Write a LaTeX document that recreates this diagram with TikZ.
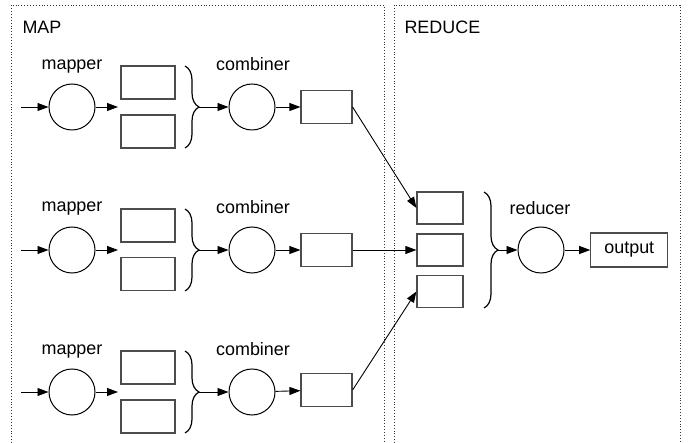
\documentclass[tikz,border=0pt]{standalone}
\usepackage{fontspec}
\setmainfont{Liberation Sans}
\usetikzlibrary{arrows.meta}
\usetikzlibrary{decorations.pathreplacing}

\begin{document}
\begin{tikzpicture}[x=1bp, y=-1bp,
  every node/.style={font=\fontsize{18}{21}\selectfont},
  proc/.style={draw, circle, line width=1bp, minimum size=46bp, inner sep=0pt},
  buf/.style={draw=black!70, line width=1.2bp, minimum width=54bp, minimum height=33bp, inner sep=0pt},
  flow/.style={-{Triangle[length=11bp,width=8bp]}, line width=0.9bp},
  grp/.style={decorate, decoration={brace, amplitude=14bp}, line width=1.2bp},
  zone/.style={dotted, line width=0.9bp, black!80}]
\useasboundingbox (0,0) rectangle (691,443);

% MAP and REDUCE areas
\draw[zone] (11,443) -- (11,5) -- (384,5) -- (384,443);
\draw[zone] (394,443) -- (394,5) -- (680,5) -- (680,443);
\node[anchor=west] (maplbl) at (19,27.5) {MAP};
\node[anchor=west] (redlbl) at (401,27.5) {REDUCE};

% Row 1
\node[proc] (m1) at (72,107) {};
\node (m1lbl) at (72,67) {mapper};
\coordinate (in1) at (21,107);
\coordinate (out1) at (118,107);
\draw[flow] (in1) -- (m1);
\draw[flow] (m1) -- (out1);
\node[buf] (p1a) at (148,82.5) {};
\node[buf] (p1b) at (148,131.5) {};
\draw[grp] (185,66) -- (185,148);
\coordinate (t1) at (199,107);
\node[proc] (c1) at (252,107) {};
\node (c1lbl) at (253,64) {combiner};
\draw[flow] (t1) -- (c1);
\node[buf, minimum width=51bp] (q1) at (326.5,107) {};
\draw[flow] (c1) -- (q1);

% Row 2
\node[proc] (m2) at (72,250) {};
\node (m2lbl) at (72,209) {mapper};
\coordinate (in2) at (21,250);
\coordinate (out2) at (118,250);
\draw[flow] (in2) -- (m2);
\draw[flow] (m2) -- (out2);
\node[buf] (p2a) at (148,225.5) {};
\node[buf] (p2b) at (148,274) {};
\draw[grp] (185,209) -- (185,291);
\coordinate (t2) at (199,250);
\node[proc] (c2) at (252,250) {};
\node (c2lbl) at (253,207) {combiner};
\draw[flow] (t2) -- (c2);
\node[buf, minimum width=51bp] (q2) at (326.5,250) {};
\draw[flow] (c2) -- (q2);

% Row 3
\node[proc] (m3) at (72,392) {};
\node (m3lbl) at (72,352) {mapper};
\coordinate (in3) at (21,392);
\coordinate (out3) at (118,392);
\draw[flow] (in3) -- (m3);
\draw[flow] (m3) -- (out3);
\node[buf] (p3a) at (148,367.5) {};
\node[buf] (p3b) at (148,416.5) {};
\draw[grp] (185,351) -- (185,433);
\coordinate (t3) at (199,392);
\node[proc] (c3) at (252,392) {};
\node (c3lbl) at (253,349) {combiner};
\draw[flow] (t3) -- (c3);
\node[buf, minimum width=51bp] (q3) at (326.5,390) {};
\draw[flow] (c3) -- (q3);

% Reduce side
\node[buf, minimum width=46bp, minimum height=32bp] (s1) at (440,208) {};
\node[buf, minimum width=46bp, minimum height=32bp] (s2) at (440,250) {};
\node[buf, minimum width=46bp, minimum height=32bp] (s3) at (440,291.5) {};
\draw[flow] (q1.east) -- (s1.west);
\draw[flow] (q2.east) -- (s2.west);
\draw[flow] (q3.east) -- (s3.west);
\draw[grp] (484,192) -- (484,308);
\coordinate (t4) at (497,250);
\node[proc] (red) at (541,250) {};
\node (redlbl2) at (540,208) {reducer};
\draw[flow] (t4) -- (red);
\node[buf, minimum width=77bp, minimum height=34bp] (res) at (629.3,250) {output};
\draw[flow] (red) -- (res);
\end{tikzpicture}
\end{document}
